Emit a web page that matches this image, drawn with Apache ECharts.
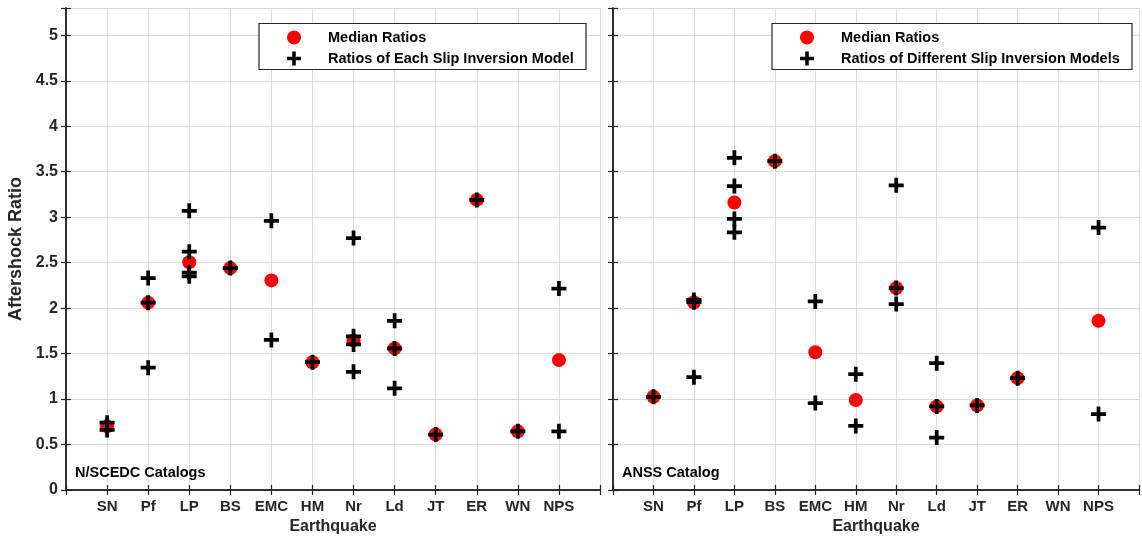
<!DOCTYPE html>
<html>
<head>
<meta charset="utf-8">
<script src="https://cdn.jsdelivr.net/npm/echarts@6/dist/echarts.min.js"></script>
<style>
html,body{margin:0;padding:0;background:#fff;}
#chart{width:1142px;height:540px;}
</style>
</head>
<body>
<div id="chart"></div>
<script>
const categories = ['SN','Pf','LP','BS','EMC','HM','Nr','Ld','JT','ER','WN','NPS'];
const yTicks = [0,0.5,1,1.5,2,2.5,3,3.5,4,4.5,5];

// Left panel: N/SCEDC catalogs
const leftMedian = [0.70, 2.06, 2.505, 2.44, 2.305, 1.405, 1.645, 1.557, 0.61, 3.19, 0.645, 1.43];
const leftModels = [
  [0.74, 0.66],
  [2.33, 2.06, 1.345],
  [3.07, 2.62, 2.39, 2.35],
  [2.44],
  [2.96, 1.65],
  [1.405],
  [2.77, 1.69, 1.60, 1.30],
  [1.86, 1.557, 1.118],
  [0.61],
  [3.19],
  [0.645],
  [2.215, 0.645]
];

// Right panel: ANSS catalog
const rightMedian = [1.025, 2.065, 3.161, 3.616, 1.515, 0.989, 2.22, 0.919, 0.93, 1.23, null, 1.86];
const rightModels = [
  [1.025],
  [2.09, 2.065, 1.24],
  [3.653, 3.342, 2.98, 2.834],
  [3.616],
  [2.074, 0.956],
  [1.274, 0.704],
  [3.35, 2.22, 2.045],
  [1.395, 0.919, 0.576],
  [0.93],
  [1.23],
  [],
  [2.886, 0.835]
];

const legendLeft = ['Median Ratios', 'Ratios of Each Slip Inversion Model'];
const legendRight = ['Median Ratios', 'Ratios of Different Slip Inversion Models'];
const panelLabels = ['N/SCEDC Catalogs', 'ANSS Catalog'];

const crossPath = 'path://M6,0H10V6H16V10H10V16H6V10H0V6H6Z';
const dark = '#262626';
const FONT = '"Liberation Sans", Arial, Helvetica, sans-serif';

function medianData(arr){
  const out = [];
  arr.forEach((v,i)=>{ if (v !== null) out.push([i+1, v]); });
  return out;
}
function modelData(arr){
  const out = [];
  arr.forEach((vals,i)=>{ vals.forEach(v=>out.push([i+1, v])); });
  return out;
}

const grids = [
  {left: 66, right: 542, top: 8, bottom: 49},
  {left: 613, right: -5, top: 8, bottom: 49}
];

function xAxisPair(gi){
  const base = {
    type: 'value', gridIndex: gi, min: 0, max: 13, interval: 1,
    axisLine: {show: true, lineStyle: {color: dark, width: 1.5}},
    axisTick: {show: true, inside: true, length: 5, lineStyle: {color: dark, width: 1.2}},
  };
  return [
    Object.assign({}, base, {
      position: 'bottom',
      name: 'Earthquake', nameLocation: 'middle', nameGap: 29,
      nameTextStyle: {fontFamily: FONT, fontWeight: 'bold', fontSize: 16, color: dark},
      axisLabel: {show: true, margin: 9, fontFamily: FONT, fontWeight: 'bold', fontSize: 15, color: dark,
        formatter: v => categories[v-1] || ''},
      splitLine: {show: true, lineStyle: {color: '#dcdcdc', width: 1}}
    }),
    Object.assign({}, base, {
      position: 'top', axisLabel: {show: false}, splitLine: {show: false}
    })
  ];
}
function yAxisPair(gi, showLabels){
  const base = {
    type: 'value', gridIndex: gi, min: 0, max: 5.3, interval: 0.5,
    axisLine: {show: true, lineStyle: {color: dark, width: 1.5}},
    axisTick: {show: true, inside: true, length: 5, lineStyle: {color: dark, width: 1.2}},
  };
  const main = Object.assign({}, base, {
    position: 'left',
    axisLabel: {show: showLabels, margin: 8, fontFamily: FONT, fontWeight: 'bold', fontSize: 16, color: dark,
      formatter: v => (yTicks.indexOf(Math.round(v*100)/100) >= 0 ? String(Math.round(v*100)/100) : '')},
    splitLine: {show: true, lineStyle: {color: '#dcdcdc', width: 1}}
  });
  if (showLabels) {
    main.name = 'Aftershock Ratio';
    main.nameLocation = 'middle';
    main.nameGap = 41;
    main.nameTextStyle = {fontFamily: FONT, fontWeight: 'bold', fontSize: 18, color: dark};
  }
  return [
    main,
    Object.assign({}, base, {position: 'right', axisLabel: {show: false}, splitLine: {show: false}})
  ];
}

const xAxes = [...xAxisPair(0), ...xAxisPair(1)];
const yAxes = [...yAxisPair(0, true), ...yAxisPair(1, false)];

function series(name, data, xi, yi, isCross){
  return {
    name: name, type: 'scatter', xAxisIndex: xi, yAxisIndex: yi,
    data: data,
    symbol: isCross ? crossPath : 'circle',
    symbolSize: isCross ? 15 : 14,
    symbolKeepAspect: true,
    itemStyle: {color: isCross ? '#000000' : '#ff0000', opacity: 1},
    z: isCross ? 3 : 2,
    silent: true,
    emphasis: {disabled: true}
  };
}

const legendCommon = {
  orient: 'vertical', padding: 0, itemWidth: 14, itemHeight: 14, itemGap: 6,
  selectedMode: false, z: 20,
  textStyle: {fontFamily: FONT, fontWeight: 'bold', fontSize: 14.5, color: '#000', lineHeight: 14, padding: [0,0,0,22]}
};

const option = {
  animation: false,
  backgroundColor: '#ffffff',
  grid: grids,
  xAxis: xAxes,
  yAxis: yAxes,
  legend: [
    Object.assign({}, legendCommon, {left: 287, top: 30,
      data: [{name: legendLeft[0], icon: 'circle', itemStyle: {color: '#ff0000'}},
             {name: legendLeft[1], icon: crossPath, itemStyle: {color: '#000'}}]}),
    Object.assign({}, legendCommon, {left: 800, top: 30,
      data: [{name: legendRight[0], icon: 'circle', itemStyle: {color: '#ff0000'}},
             {name: legendRight[1], icon: crossPath, itemStyle: {color: '#000'}}]})
  ],
  graphic: [
    {type: 'rect', shape: {x: 259, y: 23.5, width: 327, height: 46}, style: {fill: '#fff', stroke: dark, lineWidth: 1.2}, z: 5},
    {type: 'rect', shape: {x: 772, y: 23.5, width: 360, height: 46}, style: {fill: '#fff', stroke: dark, lineWidth: 1.2}, z: 5},
    {type: 'text', x: 75, y: 473, style: {text: panelLabels[0], font: 'bold 14.5px ' + FONT, fill: '#000', textVerticalAlign: 'middle'}, z: 5},
    {type: 'text', x: 622, y: 473, style: {text: panelLabels[1], font: 'bold 14.5px ' + FONT, fill: '#000', textVerticalAlign: 'middle'}, z: 5}
  ],
  series: [
    series(legendLeft[0], medianData(leftMedian), 0, 0, false),
    series(legendLeft[1], modelData(leftModels), 0, 0, true),
    series(legendRight[0], medianData(rightMedian), 2, 2, false),
    series(legendRight[1], modelData(rightModels), 2, 2, true)
  ]
};

const chart = echarts.init(document.getElementById('chart'), null, {renderer: 'canvas'});
chart.setOption(option);
</script>
</body>
</html>
